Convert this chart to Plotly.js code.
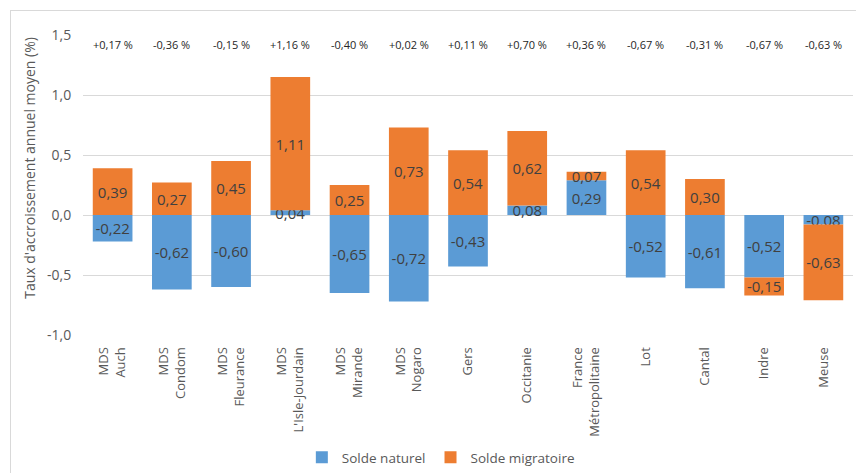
<!DOCTYPE html>
<html>
<head>
<meta charset="utf-8">
<script src="https://cdn.plot.ly/plotly-3.0.1.min.js"></script>
<style>
html,body{margin:0;padding:0;background:#fff;overflow:hidden;}
#chart{width:856px;height:473px;position:relative;}
#frame{position:absolute;left:10px;top:10px;width:900px;height:500px;border:1px solid #d9d9d9;pointer-events:none;}
</style>
</head>
<body>
<div id="chart"></div>
<div id="frame"></div>
<script>
const categories = ["MDS<br>Auch","MDS<br>Condom","MDS<br>Fleurance","MDS<br>L'Isle-Jourdain","MDS<br>Mirande","MDS<br>Nogaro","Gers","Occitanie","France<br>Métropolitaine","Lot","Cantal","Indre","Meuse"];
const soldeNaturel = [-0.22,-0.62,-0.60,0.04,-0.65,-0.72,-0.43,0.08,0.29,-0.52,-0.61,-0.52,-0.08];
const soldeMigratoire = [0.39,0.27,0.45,1.11,0.25,0.73,0.54,0.62,0.07,0.54,0.30,-0.15,-0.63];
const totalLabels = ["+0,17 %","-0,36 %","-0,15 %","+1,16 %","-0,40 %","+0,02 %","+0,11 %","+0,70 %","+0,36 %","-0,67 %","-0,31 %","-0,67 %","-0,63 %"];
const yTicks = [-1.0,-0.5,0.0,0.5,1.0,1.5];
const yTickLabels = ["-1,0","-0,5","0,0","0,5","1,0","1,5"];
const yTitle = "Taux d'accroissement annuel moyen (%)";

const fmt = v => v.toFixed(2).replace('.', ',');
const FONT = "Open Sans, sans-serif";
const labelFont = {family: FONT, size: 15, color: '#404040'};

const traces = [
  {type:'bar', name:'Solde naturel', x:categories, y:soldeNaturel,
   marker:{color:'#5B9BD5', line:{width:0}},
   text:soldeNaturel.map(fmt), textposition:'inside', insidetextanchor:'middle',
   textangle:0, constraintext:'none', textfont:labelFont, hoverinfo:'skip'},
  {type:'bar', name:'Solde migratoire', x:categories, y:soldeMigratoire,
   marker:{color:'#ED7D31', line:{width:0}},
   text:soldeMigratoire.map(fmt), textposition:'inside', insidetextanchor:'middle',
   textangle:0, constraintext:'none', textfont:labelFont, hoverinfo:'skip'}
];

const annotations = categories.map((c,i) => ({
  x:c, y:1.425, xref:'x', yref:'y', text:totalLabels[i], showarrow:false,
  font:{family:FONT, size:11, color:'#262626'}, xanchor:'center', yanchor:'middle'
}));
annotations.push({
  x:-0.069, y:0.557, xref:'paper', yref:'paper', text:yTitle, textangle:-90, showarrow:false,
  font:{family:FONT, size:14, color:'#595959'}, xanchor:'center', yanchor:'middle'
});

const layout = {
  width:856, height:473,
  margin:{l:83, r:3, t:35, b:138},
  paper_bgcolor:'rgba(0,0,0,0)', plot_bgcolor:'#fff',
  barmode:'relative', bargap:0.33,
  separators:', ',
  showlegend:true,
  legend:{orientation:'h', x:0.515, xref:'container', xanchor:'center', y:2, yref:'container', yanchor:'bottom',
          font:{family:FONT, size:13.5, color:'#595959'}, itemwidth:30, tracegroupgap:0},
  xaxis:{type:'category', tickangle:-90, showgrid:false, showline:false, zeroline:false,
         tickfont:{family:FONT, size:13, color:'#595959'}, ticks:'outside', ticklen:6, tickcolor:'rgba(0,0,0,0)'},
  yaxis:{range:[-1,1.5], tickmode:'array', tickvals:yTicks, ticktext:yTickLabels, showgrid:true, gridcolor:'#d9d9d9', gridwidth:1,
         zeroline:true, zerolinecolor:'#d9d9d9', zerolinewidth:1, showline:false,
         tickfont:{family:FONT, size:14, color:'#595959'}, ticks:'outside', ticklen:8, tickcolor:'rgba(0,0,0,0)'},
  annotations:annotations
};

Plotly.newPlot('chart', traces, layout, {displayModeBar:false, staticPlot:true});
</script>
</body>
</html>
